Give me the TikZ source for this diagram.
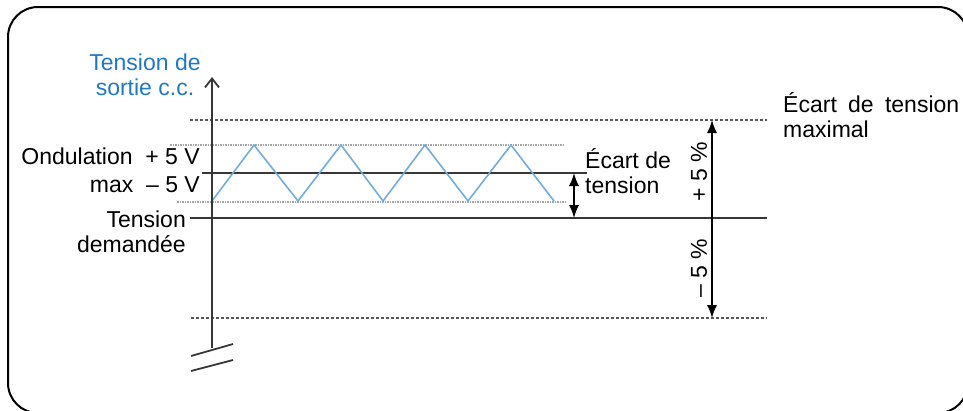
\documentclass[tikz,border=0pt]{standalone}
\usepackage{fontspec}
\setmainfont{Liberation Sans}
\usetikzlibrary{arrows.meta,positioning}
\definecolor{sortieblue}{RGB}{30,120,200}
\definecolor{waveblue}{RGB}{110,172,225}
\definecolor{linegray}{RGB}{55,55,55}
\definecolor{ripplegray}{RGB}{165,165,165}
\definecolor{dashgray}{RGB}{85,85,85}

\begin{document}
\begin{tikzpicture}[x=1pt, y=-1pt, font=\fontsize{23}{25}\selectfont,
  level/.style={draw=linegray, line width=1.6pt},
  ripple/.style={draw=ripplegray, line width=2pt, dash pattern=on 1.5pt off 1pt},
  limit/.style={draw=dashgray, line width=1.8pt, dash pattern=on 3pt off 2pt},
  wave/.style={draw=waveblue, line width=1.6pt},
  dim/.style={draw=black, line width=1.4pt, {Latex[length=13pt,width=10pt]}-{Latex[length=13pt,width=10pt]}},
  txt/.style={inner sep=0pt}]
  \useasboundingbox (0,0) rectangle (963,410);
  \draw[line width=2pt, rounded corners=30pt] (8,7) rectangle (968,413);

  % levels
  \coordinate (hi-l) at (190,120);   \coordinate (hi-r) at (767,120);
  \coordinate (lo-l) at (191,318);   \coordinate (lo-r) at (767,318);
  \coordinate (nom-l) at (190,218);  \coordinate (nom-r) at (767,218);
  \coordinate (mid-l) at (202,173);  \coordinate (mid-r) at (587,173);
  \coordinate (rtop-l) at (170,145); \coordinate (rtop-r) at (565,145);
  \coordinate (rbot-l) at (177,202); \coordinate (rbot-r) at (565,202);

  \draw[limit] (hi-l) -- (hi-r);
  \draw[limit] (lo-l) -- (lo-r);
  \draw[level] (nom-l) -- (nom-r);
  \draw[level] (mid-l) -- (mid-r);
  \draw[ripple] (rtop-l) -- (rtop-r);
  \draw[ripple] (rbot-l) -- (rbot-r);

  % ripple
  \draw[wave] (212,201) -- (254,145) -- (298,201) -- (341,145) -- (383,201)
    -- (425,145) -- (468,201) -- (511,145) -- (554,201);

  % axis
  \coordinate (axis-bot) at (212,348);
  \coordinate (axis-top) at (212,77);
  \draw[draw=linegray, line width=1.8pt, -{Straight Barb[length=9pt,width=14pt]}] (axis-bot) -- (axis-top);
  \coordinate (brk1-l) at (191,356); \coordinate (brk1-r) at (233,344);
  \coordinate (brk2-l) at (191,371); \coordinate (brk2-r) at (233,360);
  \draw[draw=linegray, line width=1.8pt] (brk1-l) -- (brk1-r);
  \draw[draw=linegray, line width=1.8pt] (brk2-l) -- (brk2-r);

  % deviations
  \coordinate (dev-top) at (574,173); \coordinate (dev-bot) at (574,218);
  \coordinate (max-top) at (712,120); \coordinate (max-bot) at (712,318);
  \draw[dim] (dev-top) -- (dev-bot);
  \draw[dim] (max-top) -- (max-bot);

  % labels
  \node[txt, anchor=base, align=center, text=sortieblue] (sortie) at (145,95) {Tension de\\sortie c.c.};
  \node[txt, anchor=base east, align=right] (ondulation) at (200,192) {Ondulation\ \ + 5 V\\[3pt]max\ \ -- 5 V};
  \node[txt, anchor=base east, align=right] (demandee) at (186,252) {Tension\\demandée};
  \node[txt, anchor=base west, align=left] (ecart) at (585,193) {Écart de\\tension};
  \node[txt, rotate=90] (plus) at (699,172) {+ 5 \%};
  \node[txt, rotate=90] (minus) at (699,268) {-- 5 \%};
  \node[txt, anchor=base west, align=left] (ecartmax) at (783,137) {\makebox[176pt][s]{Écart de tension}\\maximal};
\end{tikzpicture}
\end{document}
